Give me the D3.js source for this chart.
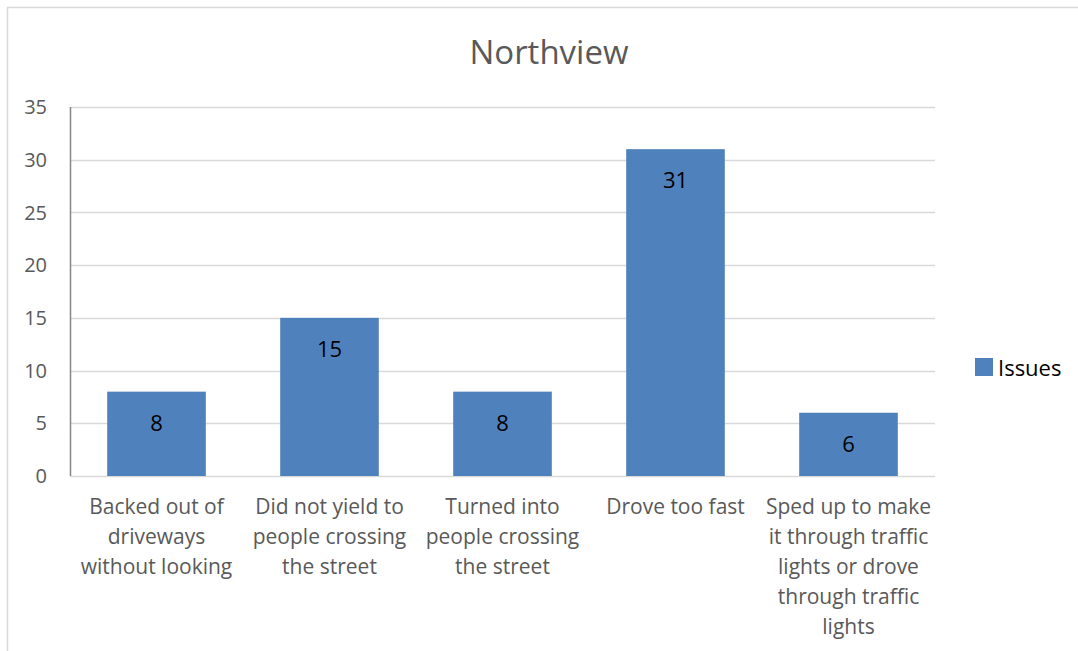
<!DOCTYPE html>
<html>
<head>
<meta charset="utf-8">
<script src="https://cdn.jsdelivr.net/npm/d3@7"></script>
<style>
  body { margin: 0; background: #fff; }
  svg { font-family: "Open Sans", sans-serif; }
</style>
</head>
<body>
<div id="chart"></div>
<script>
// chart data
var categories = [
  ["Backed out of", "driveways", "without looking"],
  ["Did not yield to", "people crossing", "the street"],
  ["Turned into", "people crossing", "the street"],
  ["Drove too fast"],
  ["Sped up to make", "it through traffic", "lights or drove", "through traffic", "lights"]
];
var issues = [8, 15, 8, 31, 6];
var yTicks = [0, 5, 10, 15, 20, 25, 30, 35];
var seriesName = "Issues";
var title = "Northview";

var width = 1078,
    height = 651,
    margin = {top: 107, left: 70, right: 143, bottom: 175},
    barColor = "#4F81BD";

var svg = d3.select("#chart").append("svg")
    .attr("width", width)
    .attr("height", height);

// outer chart border (top and left visible)
svg.append("path")
    .attr("d", "M7.5," + height + "V7.5H" + width)
    .attr("fill", "none")
    .attr("stroke", "#d9d9d9")
    .attr("stroke-width", 1.5);

var x = d3.scaleBand()
    .domain(d3.range(categories.length))
    .range([margin.left, width - margin.right])
    .paddingInner(0.43)
    .paddingOuter(0.215);

var y = d3.scaleLinear()
    .domain([0, 35])
    .range([height - margin.bottom, margin.top]);

// gridlines
svg.append("g")
  .selectAll("line")
  .data(yTicks)
  .enter().append("line")
    .attr("x1", margin.left)
    .attr("x2", width - margin.right)
    .attr("y1", d => Math.round(y(d)) + 0.5)
    .attr("y2", d => Math.round(y(d)) + 0.5)
    .attr("stroke", "#d9d9d9")
    .attr("stroke-width", 1.5);

// y axis line
svg.append("line")
    .attr("x1", margin.left + 0.5)
    .attr("x2", margin.left + 0.5)
    .attr("y1", y(35))
    .attr("y2", y(0))
    .attr("stroke", "#868686")
    .attr("stroke-width", 1.5);

// y tick labels
svg.append("g")
  .selectAll("text")
  .data(yTicks)
  .enter().append("text")
    .attr("x", 47)
    .attr("y", d => y(d))
    .attr("dy", "0.36em")
    .attr("text-anchor", "end")
    .attr("fill", "#595959")
    .attr("font-size", 20)
    .text(d => d);

// bars
svg.append("g")
  .selectAll("rect")
  .data(issues)
  .enter().append("rect")
    .attr("x", (d, i) => x(i))
    .attr("y", d => y(d))
    .attr("width", x.bandwidth())
    .attr("height", d => y(0) - y(d))
    .attr("fill", barColor);

// data labels
svg.append("g")
  .selectAll("text")
  .data(issues)
  .enter().append("text")
    .attr("x", (d, i) => x(i) + x.bandwidth() / 2)
    .attr("y", d => y(d) + 39)
    .attr("text-anchor", "middle")
    .attr("fill", "#000")
    .attr("font-size", 22)
    .text(d => d);

// category labels
var step = (width - margin.right - margin.left) / categories.length;
var cat = svg.append("g")
  .selectAll("text")
  .data(categories)
  .enter().append("text")
    .attr("text-anchor", "middle")
    .attr("fill", "#595959")
    .attr("font-size", 21);

cat.selectAll("tspan")
  .data((d, i) => d.map(t => ({t: t, i: i})))
  .enter().append("tspan")
    .attr("x", d => margin.left + step * (d.i + 0.5))
    .attr("y", (d, j) => 514 + j * 30)
    .text(d => d.t);

// title
svg.append("text")
    .attr("x", 549)
    .attr("y", 64)
    .attr("text-anchor", "middle")
    .attr("fill", "#595959")
    .attr("font-size", 33)
    .text(title);

// legend
svg.append("rect")
    .attr("x", 975)
    .attr("y", 358)
    .attr("width", 18)
    .attr("height", 18)
    .attr("fill", barColor);

svg.append("text")
    .attr("x", 998)
    .attr("y", 376)
    .attr("fill", "#000")
    .attr("font-size", 22)
    .text(seriesName);
</script>
</body>
</html>
